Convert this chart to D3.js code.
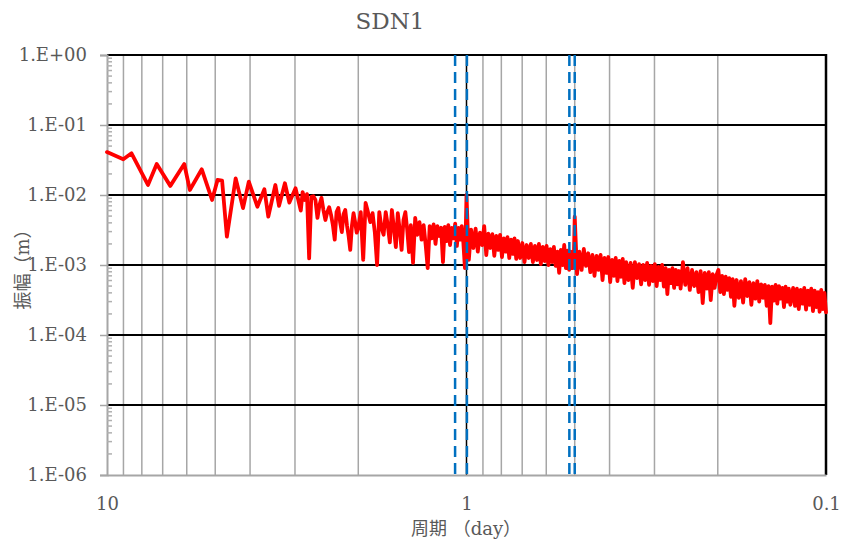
<!DOCTYPE html>
<html><head><meta charset="utf-8">
<script src="https://cdn.jsdelivr.net/npm/d3@7"></script>
<style>body{margin:0;background:#fff}svg{display:block}</style>
</head><body>
<svg id="chart" width="844" height="547"></svg>
<script>
const chartTitle = "SDN1";
const xAxisTitle = "周期 （day）";
const yAxisTitle = "振幅（m）";
const yTickValues = [1, 1e-1, 1e-2, 1e-3, 1e-4, 1e-5, 1e-6];
const yTickLabels = ["1.E+00", "1.E-01", "1.E-02", "1.E-03", "1.E-04", "1.E-05", "1.E-06"];
const xTickValues = [10, 1, 0.1];
const xTickLabels = ["10", "1", "0.1"];
const xMinorGrid = [9, 8, 7, 6, 5, 4, 3, 2, 0.9, 0.8, 0.7, 0.6, 0.5, 0.4, 0.3, 0.2];
// tidal constituent periods (day): O1, K1, M2, S2
const tidalPeriods = [1.0758, 0.9973, 0.5175, 0.5];

// spectrum: frequency (cycles/day) and amplitude (m)
const frequency = [
  0.100,0.111,0.117,0.130,0.1375,0.150,0.164,0.170,0.1835,0.196,0.203,0.209,0.2155,0.228,0.239,0.248,0.262,0.274,0.281,0.294,0.301,0.3125,0.3215,0.3345,0.346,
  0.350,0.355,0.360,0.365,0.370,0.375,0.380,0.385,0.390,0.395,0.400,0.405,0.410,0.415,0.420,0.425,0.430,0.435,0.440,0.445,0.450,0.455,0.460,0.465,0.470,0.475,0.480,0.485,0.490,0.495,0.500,
  0.508,0.516,0.524,0.532,0.540,0.548,0.556,0.564,0.572,0.580,0.588,0.596,0.604,0.612,0.620,0.628,0.636,0.644,0.652,0.660,0.668,0.676,0.684,0.692,0.700,
  0.71,0.72,0.73,0.74,0.75,0.76,0.77,0.78,0.79,0.80,0.81,0.82,0.83,0.84,0.85,0.86,0.87,0.88,0.89,0.90,0.91,0.92,0.93,0.94,0.95,0.96,0.97,0.98,0.99,1.00,
  1.015,1.03,1.045,1.06,1.075,1.09,1.105,1.12,1.135,1.15,1.165,1.18,1.195,1.21,1.225,1.24,1.255,1.27,1.285,1.30,1.315,1.33,1.345,1.36,1.375,1.39,
  1.41,1.43,1.45,1.47,1.49,1.51,1.53,1.55,1.57,1.59,1.61,1.63,1.65,1.67,1.69,1.71,1.73,1.75,1.77,1.79,1.81,1.83,1.85,1.87,1.89,1.91,1.93,1.95,1.97,1.99,2.00,
  2.03,2.06,2.09,2.12,2.15,2.18,2.21,2.24,2.27,2.30,2.33,2.36,2.39,2.42,2.45,2.48,2.51,2.54,2.57,2.60,2.63,2.66,2.69,2.72,2.75,2.78,
  2.82,2.86,2.90,2.94,2.98,3.02,3.06,3.10,3.14,3.18,3.22,3.26,3.30,3.34,3.38,3.42,3.46,3.50,3.54,3.58,3.62,3.66,3.70,3.74,3.78,3.82,3.86,3.90,3.94,3.98,4.00,
  4.06,4.12,4.18,4.24,4.30,4.36,4.42,4.48,4.54,4.60,4.66,4.72,4.78,4.84,4.90,4.96,5.02,5.08,5.14,5.20,5.26,5.32,5.38,5.44,5.50,5.56,
  5.64,5.72,5.80,5.88,5.96,6.04,6.12,6.20,6.28,6.36,6.44,6.52,6.60,6.68,6.76,6.84,6.92,7.00,7.08,7.16,7.24,7.32,7.40,7.48,7.56,7.64,7.72,7.80,7.88,7.96,
  8.1,8.2,8.3,8.4,8.5,8.6,8.7,8.8,8.9,9.0,9.1,9.2,9.3,9.4,9.5,9.6,9.7,9.8,9.9,10.0
];
const amplitude = [
  4.1e-2,3.24e-2,3.94e-2,1.39e-2,2.77e-2,1.35e-2,2.77e-2,1.18e-2,2.33e-2,8.5e-3,1.64e-2,1.6e-2,2.54e-3,1.73e-2,6.5e-3,1.55e-2,6.8e-3,1.21e-2,4.9e-3,1.39e-2,7.0e-3,1.47e-2,7.8e-3,1.25e-2,6.0e-3,
  1.10e-2,8.5e-3,1.03e-2,1.24e-3,9.4e-3,9.6e-3,8.5e-3,4.7e-3,7.2e-3,9.1e-3,6.1e-3,4.4e-3,5.7e-3,6.7e-3,5.2e-3,3.7e-3,2.3e-3,5.7e-3,6.5e-3,4.1e-3,2.96e-3,5.3e-3,6.1e-3,3.7e-3,2.6e-3,1.64e-3,3.6e-3,5.5e-3,4.1e-3,2.9e-3,3.4e-3,
  5.7e-3,1.18e-3,7.7e-3,5.7e-3,4.1e-3,5.5e-3,2.9e-3,1.0e-3,5.7e-3,3.4e-3,2.7e-3,5.7e-3,3.7e-3,2.1e-3,6.1e-3,3.4e-3,1.8e-3,5.5e-3,3.16e-3,1.64e-3,4.4e-3,5.7e-3,3.2e-3,1.53e-3,3.7e-3,
  1.07e-3,4.7e-3,2.7e-3,4.1e-3,2.3e-3,3.7e-3,1.93e-3,9.0e-4,3.6e-3,2.4e-3,3.8e-3,2.0e-3,3.6e-3,2.6e-3,3.4e-3,1.1e-3,3.5e-3,2.2e-3,3.7e-3,1.93e-3,3.4e-3,2.4e-3,3.9e-3,1.87e-3,3.4e-3,2.3e-3,3.6e-3,2.1e-3,9.0e-4,1.0e-2,
  1.18e-3,3.2e-3,1.75e-3,3.3e-3,1.55e-3,2.9e-3,1.93e-3,3.6e-3,1.39e-3,2.8e-3,1.75e-3,2.75e-3,1.35e-3,2.6e-3,1.64e-3,2.7e-3,1.3e-3,2.4e-3,1.55e-3,2.5e-3,1.26e-3,2.3e-3,1.44e-3,2.4e-3,1.22e-3,2.2e-3,
  1.26e-3,2.06e-3,1.1e-3,1.93e-3,1.26e-3,2.0e-3,1.1e-3,1.87e-3,1.18e-3,2.0e-3,1.03e-3,1.81e-3,1.14e-3,1.87e-3,1.0e-3,1.69e-3,1.1e-3,1.81e-3,9.7e-4,1.55e-3,7.7e-4,1.64e-3,1.0e-3,1.93e-3,9.0e-4,1.6e-3,8.5e-4,1.55e-3,9.0e-4,1.39e-3,4.9e-3,
  7.4e-4,1.55e-3,8.5e-4,1.7e-3,9.7e-4,1.47e-3,7.9e-4,1.39e-3,7.0e-4,1.35e-3,8.5e-4,1.39e-3,6.1e-4,1.26e-3,7.7e-4,1.3e-3,5.7e-4,1.18e-3,7.0e-4,1.26e-3,5.9e-4,1.14e-3,6.8e-4,1.22e-3,5.5e-4,1.1e-3,
  6.1e-4,1.07e-3,4.7e-4,1.1e-3,6.5e-4,1.03e-3,5.3e-4,1.0e-3,6.1e-4,1.07e-3,5.2e-4,9.7e-4,5.9e-4,1.03e-3,5.0e-4,9.4e-4,6.1e-4,1.0e-3,4.9e-4,9.0e-4,3.85e-4,8.5e-4,5.5e-4,9.0e-4,4.7e-4,8.5e-4,5.3e-4,8.2e-4,4.6e-4,8.0e-4,1.1e-3,
  5.2e-4,9.0e-4,4.4e-4,8.5e-4,5.0e-4,7.9e-4,4.1e-4,8.2e-4,2.86e-4,7.7e-4,4.6e-4,7.9e-4,3.16e-4,7.4e-4,4.7e-4,7.2e-4,8.5e-4,4.1e-4,7.0e-4,3.85e-4,6.8e-4,4.4e-4,6.5e-4,3.5e-4,6.3e-4,2.6e-4,
  6.1e-4,3.4e-4,5.9e-4,2.9e-4,6.3e-4,3.6e-4,5.7e-4,2.7e-4,5.5e-4,3.3e-4,5.9e-4,3.0e-4,5.3e-4,3.4e-4,5.2e-4,2.6e-4,5.0e-4,1.48e-4,4.9e-4,3.1e-4,5.2e-4,2.8e-4,5.0e-4,3.3e-4,4.7e-4,2.5e-4,4.9e-4,3.0e-4,4.6e-4,2.7e-4,
  4.7e-4,2.6e-4,4.6e-4,2.35e-4,4.4e-4,2.8e-4,4.7e-4,2.3e-4,4.3e-4,2.7e-4,4.6e-4,2.2e-4,4.3e-4,2.5e-4,4.1e-4,2.15e-4,4.4e-4,2.35e-4,4.0e-4,2.1e-4
];

const W = 844, H = 547;
const plot = {left: 107, right: 826, top: 55, bottom: 475};
const textColor = "#595959";
const serif = "'DejaVu Serif', 'Noto Sans CJK JP', serif";

const svg = d3.select("#chart");
svg.append("rect").attr("width", W).attr("height", H).attr("fill", "#fff");

const x = d3.scaleLog().domain([10, 0.1]).range([plot.left, plot.right]);
const y = d3.scaleLog().domain([1, 1e-6]).range([plot.top, plot.bottom]);

// vertical minor gridlines (gray)
svg.append("g").selectAll("line").data(xMinorGrid).join("line")
  .attr("x1", d => x(d)).attr("x2", d => x(d))
  .attr("y1", plot.top).attr("y2", plot.bottom)
  .attr("stroke", "#a6a6a6").attr("stroke-width", 1.5);

// horizontal major gridlines (black)
svg.append("g").selectAll("line").data(yTickValues.slice(0, -1)).join("line")
  .attr("x1", plot.left).attr("x2", plot.right)
  .attr("y1", d => y(d)).attr("y2", d => y(d))
  .attr("stroke", "#000").attr("stroke-width", 2);

// vertical major gridlines (black) at 1 and 0.1
svg.append("g").selectAll("line").data(xTickValues.slice(1)).join("line")
  .attr("x1", d => x(d)).attr("x2", d => x(d))
  .attr("y1", plot.top - 1).attr("y2", plot.bottom)
  .attr("stroke", "#000").attr("stroke-width", d => d === 0.1 ? 2.5 : 1.5);

// left axis (gray) with major ticks + labels
const yAxis = d3.axisLeft(y).tickValues(yTickValues)
  .tickFormat((d, i) => yTickLabels[i]).tickSize(7).tickPadding(13);
const gy = svg.append("g").attr("transform", `translate(${plot.left},0)`).call(yAxis);
gy.select(".domain").attr("stroke", "#a6a6a6").attr("stroke-width", 2);
gy.selectAll(".tick line").attr("stroke", "#a6a6a6").attr("stroke-width", 1.5);
gy.selectAll(".tick text").attr("fill", textColor)
  .style("font-family", serif).style("font-size", "18px");

// minor ticks inside on left axis
const minorY = [];
yTickValues.slice(0, -1).forEach(v => { for (let k = 2; k <= 9; k++) minorY.push(v / 10 * k); });
svg.append("g").selectAll("line").data(minorY).join("line")
  .attr("x1", plot.left).attr("x2", plot.left + 5)
  .attr("y1", d => y(d)).attr("y2", d => y(d))
  .attr("stroke", "#b0b0b0").attr("stroke-width", 1.5);

// bottom axis (gray) and labels
const xAxis = d3.axisBottom(x).tickValues(xTickValues)
  .tickFormat((d, i) => xTickLabels[i]).tickSize(0).tickPadding(22);
const gx = svg.append("g").attr("transform", `translate(0,${plot.bottom})`).call(xAxis);
gx.select(".domain").attr("stroke", "#a6a6a6").attr("stroke-width", 2);
gx.selectAll(".tick text").attr("fill", textColor)
  .style("font-family", serif).style("font-size", "18px");

// data line
const data = frequency.map((f, i) => ({period: 1 / f, amp: amplitude[i]}));
svg.append("path").datum(data)
  .attr("fill", "none").attr("stroke", "#ff0000").attr("stroke-width", 3.8)
  .attr("stroke-linejoin", "round").attr("stroke-linecap", "round")
  .attr("d", d3.line().x(d => x(d.period)).y(d => y(d.amp)));

// tidal period dashed lines
svg.append("g").selectAll("line").data(tidalPeriods).join("line")
  .attr("x1", d => x(d)).attr("x2", d => x(d))
  .attr("y1", plot.top).attr("y2", plot.bottom)
  .attr("stroke", "#0070c0").attr("stroke-width", 2.5)
  .attr("stroke-dasharray", "11,6");

// title & axis titles
svg.append("text").attr("x", 390).attr("y", 29).attr("text-anchor", "middle")
  .attr("fill", textColor).style("font-family", serif).style("font-size", "23px")
  .text(chartTitle);
svg.append("text").attr("x", 466).attr("y", 535).attr("text-anchor", "middle")
  .attr("fill", textColor).style("font-family", serif).style("font-size", "18px")
  .text(xAxisTitle);
svg.append("text").attr("transform", "translate(29,265) rotate(-90)").attr("text-anchor", "middle")
  .attr("fill", textColor).style("font-family", serif).style("font-size", "18px")
  .text(yAxisTitle);
</script>
</body></html>
